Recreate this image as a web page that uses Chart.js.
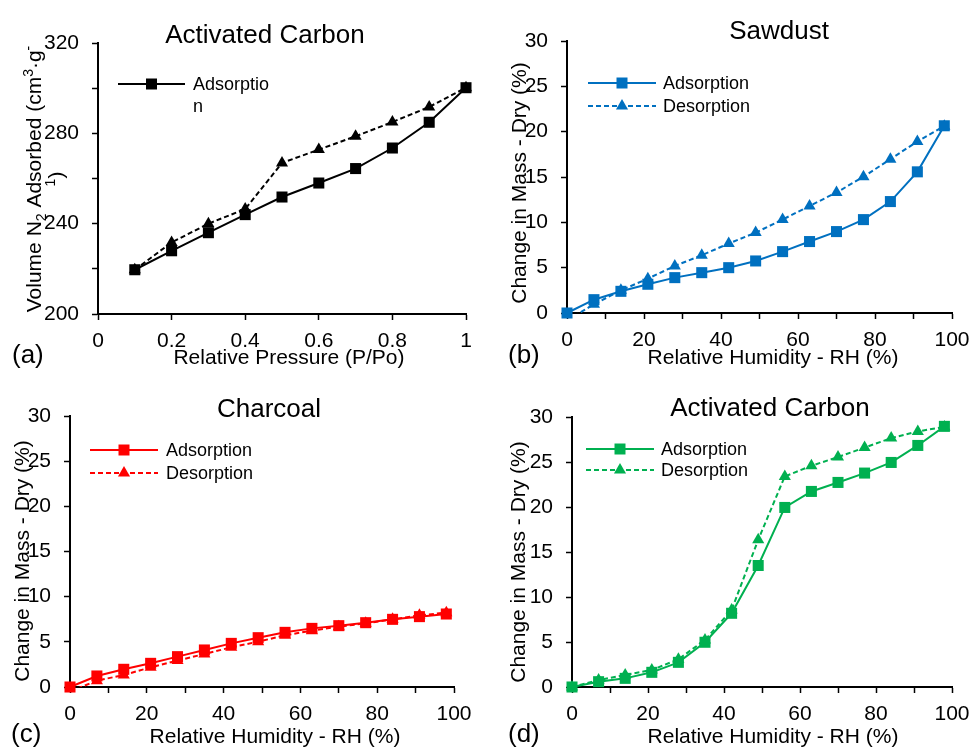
<!DOCTYPE html>
<html>
<head>
<meta charset="utf-8">
<script src="https://cdn.jsdelivr.net/npm/chart.js@4.4.1/dist/chart.umd.min.js"></script>
<style>
  html, body { margin: 0; padding: 0; background: #ffffff; }
  #wrap { position: relative; width: 969px; height: 747px; overflow: hidden; background: #fff; }
  canvas { position: absolute; left: 0; top: 0; }
</style>
</head>
<body>
<div id="wrap">
  <canvas id="cA" width="969" height="747"></canvas>
  <canvas id="cB" width="969" height="747"></canvas>
  <canvas id="cC" width="969" height="747"></canvas>
  <canvas id="cD" width="969" height="747"></canvas>
</div>
<script>
// ---------------- DATA ----------------
const relPressure = [0.1, 0.2, 0.3, 0.4, 0.5, 0.6, 0.7, 0.8, 0.9, 1.0];
const n2Adsorption = [219.6, 228, 236, 244, 251.8, 258, 264.4, 273.5, 284.9, 300.2];
const n2Desorption = [219.6, 231.7, 240, 246.5, 266.9, 272.8, 278.7, 285, 291.7, 300.2];

const humidity = [0, 7, 14, 21, 28, 35, 42, 49, 56, 63, 70, 77, 84, 91, 98];
const sawdustAdsorption = [0, 1.47, 2.39, 3.17, 3.9, 4.45, 5.0, 5.74, 6.77, 7.88, 8.98, 10.3, 12.29, 15.57, 20.65];
const sawdustDesorption = [-0.8, 0.96, 2.5, 3.79, 5.19, 6.37, 7.66, 8.87, 10.31, 11.81, 13.29, 15.02, 16.97, 18.92, 20.61];
const charcoalAdsorption = [0, 1.22, 1.96, 2.62, 3.36, 4.1, 4.83, 5.46, 6.05, 6.49, 6.79, 7.12, 7.49, 7.79, 8.08];
const charcoalDesorption = [-0.5, 0.7, 1.33, 2.18, 2.92, 3.65, 4.39, 5.02, 5.72, 6.24, 6.68, 7.05, 7.49, 7.93, 8.23];
const carbonAdsorption = [0, 0.59, 0.96, 1.63, 2.74, 4.97, 8.19, 13.5, 19.95, 21.73, 22.73, 23.77, 24.95, 26.84, 28.96];
const carbonDesorption = [0, 0.78, 1.33, 1.89, 3.08, 5.23, 8.56, 16.35, 23.4, 24.58, 25.55, 26.6, 27.66, 28.4, 28.9];

const pressureTicks = [0, 0.2, 0.4, 0.6, 0.8, 1];
const humidityTicks = [0, 20, 40, 60, 80, 100];
const volumeTicks = [200, 240, 280, 320];
const massTicks = [0, 5, 10, 15, 20, 25, 30];

const panelTitles = ['Activated Carbon', 'Sawdust', 'Charcoal', 'Activated Carbon'];
const panelTags = ['(a)', '(b)', '(c)', '(d)'];
const seriesNames = ['Adsorption', 'Desorption'];
const xTitles = ['Relative Pressure (P/Po)', 'Relative Humidity - RH (%)'];
const yTitleMass = 'Change in Mass - Dry (%)';

// ---------------- HELPERS ----------------
const FONT = '"Liberation Sans", Arial, Helvetica, sans-serif';
const pts = (xs, ys) => xs.map((x, i) => ({ x: x, y: ys[i] }));

function drawMarker(ctx, style, x, y, color) {
  ctx.save();
  ctx.fillStyle = color; ctx.strokeStyle = color; ctx.setLineDash([]);
  ctx.beginPath();
  if (style === 'rect') {
    ctx.rect(x - 5.5, y - 5.5, 11, 11);
  } else {
    const r = 7;
    ctx.moveTo(x, y - r);
    ctx.lineTo(x + r * 0.866, y + r * 0.5);
    ctx.lineTo(x - r * 0.866, y + r * 0.5);
    ctx.closePath();
  }
  ctx.fill();
  ctx.restore();
}

const panelText = {
  id: 'panelText',
  afterDraw(chart, args, o) {
    const ctx = chart.ctx;
    ctx.save();
    ctx.fillStyle = '#000';
    ctx.textBaseline = 'alphabetic';
    // title
    ctx.font = '26px ' + FONT;
    ctx.textAlign = 'center';
    ctx.fillText(o.title, o.titleX, o.titleY);
    // tag
    ctx.textAlign = 'left';
    ctx.fillText(o.tag, o.tagX, o.tagY);
    // x title
    ctx.font = '21px ' + FONT;
    ctx.textAlign = 'center';
    ctx.fillText(o.xTitle, o.xTitleX, o.xTitleY);
    // y title (rich, rotated)
    ctx.save();
    ctx.translate(o.yTitleX, o.yTitleY);
    ctx.rotate(-Math.PI / 2);
    ctx.textAlign = 'left';
    o.yTitleLines.forEach((line, li) => {
      let w = 0;
      line.forEach(seg => {
        ctx.font = (seg.s ? '14px ' : '21px ') + FONT;
        w += ctx.measureText(seg.t).width;
      });
      let x = -w / 2;
      const yb = li * o.yLineGap;
      line.forEach(seg => {
        ctx.font = (seg.s ? '14px ' : '21px ') + FONT;
        const dy = seg.s === 'sub' ? 5 : (seg.s === 'sup' ? -8 : 0);
        ctx.fillText(seg.t, x, yb + dy);
        x += ctx.measureText(seg.t).width;
      });
    });
    ctx.restore();
    // legend
    ctx.font = '18px ' + FONT;
    ctx.textAlign = 'left';
    ctx.textBaseline = 'middle';
    o.legend.forEach(item => {
      ctx.save();
      ctx.strokeStyle = item.color;
      ctx.lineWidth = 2;
      ctx.setLineDash(item.dash ? [5, 3] : []);
      ctx.beginPath();
      ctx.moveTo(o.legX1, item.y);
      ctx.lineTo(o.legX2, item.y);
      ctx.stroke();
      ctx.restore();
      drawMarker(ctx, item.marker, (o.legX1 + o.legX2) / 2, item.y, item.color);
      ctx.fillStyle = '#000';
      item.text.forEach((t, k) => ctx.fillText(t, o.legTextX, item.y + 1 + k * 22));
    });
    ctx.restore();
  }
};

function makeScales(cfg) {
  const zeroPad = s => { s.paddingLeft = 0; s.paddingRight = 0; s.paddingTop = 0; s.paddingBottom = 0; };
  const axisCommon = {
    grid: { display: true, drawOnChartArea: false, drawTicks: true, tickLength: 6, tickColor: '#000', tickWidth: 1.5 },
    border: { display: true, color: '#000', width: 2 }
  };
  return {
    x: Object.assign({}, axisCommon, {
      type: 'linear', position: 'bottom', min: cfg.xMin, max: cfg.xMax,
      ticks: {
        stepSize: cfg.xStep, autoSkip: false, maxRotation: 0, minRotation: 0, padding: 9,
        color: '#000', font: { family: FONT, size: 21 },
        callback: v => (cfg.xLabels.some(t => Math.abs(t - v) < 1e-9) ? String(+v.toFixed(1)) : '')
      },
      afterFit: s => { s.height = 60; zeroPad(s); }
    }),
    y: Object.assign({}, axisCommon, {
      type: 'linear', position: 'left', min: cfg.yMin, max: cfg.yMax,
      ticks: {
        stepSize: cfg.yStep, autoSkip: false, padding: 13,
        color: '#000', font: { family: FONT, size: 21 },
        callback: v => (cfg.yLabels.some(t => Math.abs(t - v) < 1e-9) ? String(v) : '')
      },
      afterFit: s => { s.width = 60; zeroPad(s); }
    })
  };
}

function makeChart(id, area, datasets, scaleCfg, textOpts) {
  return new Chart(document.getElementById(id), {
    type: 'scatter',
    data: { datasets: datasets },
    options: {
      responsive: false, animation: false, devicePixelRatio: 1,
      layout: { padding: { left: area.l - 60, top: area.t, right: 969 - area.r, bottom: 747 - area.b - 60 } },
      plugins: { legend: { display: false }, tooltip: { enabled: false }, title: { display: false }, panelText: textOpts },
      scales: makeScales(scaleCfg)
    },
    plugins: [panelText]
  });
}

function series(label, xs, ys, color, dashed, clip) {
  return {
    label: label, data: pts(xs, ys), showLine: true,
    borderColor: color, backgroundColor: color, borderWidth: 2,
    borderDash: dashed ? [5, 3] : [],
    pointStyle: dashed ? 'triangle' : 'rect',
    pointRadius: dashed ? 7 : 7.8, pointBorderWidth: 0,
    pointBackgroundColor: color, pointBorderColor: color,
    tension: 0, clip: clip
  };
}

const freeClip = { left: 20, right: 20, top: 20, bottom: 20 };
const floorClip = { left: 20, right: 20, top: 20, bottom: 0 };
const humidityScale = { xMin: 0, xMax: 100, xStep: 10, xLabels: humidityTicks, yMin: 0, yMax: 30, yStep: 5, yLabels: massTicks };

// (a) N2 isotherm
makeChart('cA', { l: 98, t: 43, r: 466, b: 314 }, [
  series(seriesNames[0], relPressure, n2Adsorption, '#000000', false, freeClip),
  series(seriesNames[1], relPressure, n2Desorption, '#000000', true, freeClip)
], { xMin: 0, xMax: 1, xStep: 0.2, xLabels: pressureTicks, yMin: 200, yMax: 320, yStep: 20, yLabels: volumeTicks }, {
  title: panelTitles[0], titleX: 265, titleY: 43,
  tag: panelTags[0], tagX: 12, tagY: 363,
  xTitle: xTitles[0], xTitleX: 289, xTitleY: 364,
  yTitleX: 41, yTitleY: 179, yLineGap: 22,
  yTitleLines: [
    [{ t: 'Volume N' }, { t: '2', s: 'sub' }, { t: ' Adsorbed (cm' }, { t: '3', s: 'sup' }, { t: '\u00B7g' }, { t: '-', s: 'sup' }],
    [{ t: '1', s: 'sup' }, { t: ')' }]
  ],
  legX1: 118, legX2: 185, legTextX: 193,
  legend: [{ y: 84, color: '#000000', marker: 'rect', dash: false, text: ['Adsorptio', 'n'] }]
});

// (b) Sawdust
makeChart('cB', { l: 567, t: 41, r: 952, b: 313 }, [
  series(seriesNames[0], humidity, sawdustAdsorption, '#0070C0', false, freeClip),
  series(seriesNames[1], humidity, sawdustDesorption, '#0070C0', true, floorClip)
], humidityScale, {
  title: panelTitles[1], titleX: 779, titleY: 39,
  tag: panelTags[1], tagX: 508, tagY: 363,
  xTitle: xTitles[1], xTitleX: 773, xTitleY: 364,
  yTitleX: 526, yTitleY: 183, yLineGap: 22,
  yTitleLines: [[{ t: yTitleMass }]],
  legX1: 588, legX2: 656, legTextX: 663,
  legend: [
    { y: 83, color: '#0070C0', marker: 'rect', dash: false, text: [seriesNames[0]] },
    { y: 106, color: '#0070C0', marker: 'triangle', dash: true, text: [seriesNames[1]] }
  ]
});

// (c) Charcoal
makeChart('cC', { l: 70, t: 416, r: 454, b: 687 }, [
  series(seriesNames[0], humidity, charcoalAdsorption, '#FF0000', false, freeClip),
  series(seriesNames[1], humidity, charcoalDesorption, '#FF0000', true, floorClip)
], humidityScale, {
  title: panelTitles[2], titleX: 269, titleY: 417,
  tag: panelTags[2], tagX: 11, tagY: 742,
  xTitle: xTitles[1], xTitleX: 275, xTitleY: 743,
  yTitleX: 29, yTitleY: 561, yLineGap: 22,
  yTitleLines: [[{ t: yTitleMass }]],
  legX1: 90, legX2: 158, legTextX: 166,
  legend: [
    { y: 450, color: '#FF0000', marker: 'rect', dash: false, text: [seriesNames[0]] },
    { y: 473, color: '#FF0000', marker: 'triangle', dash: true, text: [seriesNames[1]] }
  ]
});

// (d) Activated carbon, humidity
makeChart('cD', { l: 572, t: 417, r: 952, b: 687 }, [
  series(seriesNames[0], humidity, carbonAdsorption, '#00B050', false, freeClip),
  series(seriesNames[1], humidity, carbonDesorption, '#00B050', true, freeClip)
], humidityScale, {
  title: panelTitles[3], titleX: 770, titleY: 416,
  tag: panelTags[3], tagX: 508, tagY: 742,
  xTitle: xTitles[1], xTitleX: 773, xTitleY: 743,
  yTitleX: 525, yTitleY: 562, yLineGap: 22,
  yTitleLines: [[{ t: yTitleMass }]],
  legX1: 586, legX2: 654, legTextX: 661,
  legend: [
    { y: 449, color: '#00B050', marker: 'rect', dash: false, text: [seriesNames[0]] },
    { y: 470, color: '#00B050', marker: 'triangle', dash: true, text: [seriesNames[1]] }
  ]
});
</script>
</body>
</html>
